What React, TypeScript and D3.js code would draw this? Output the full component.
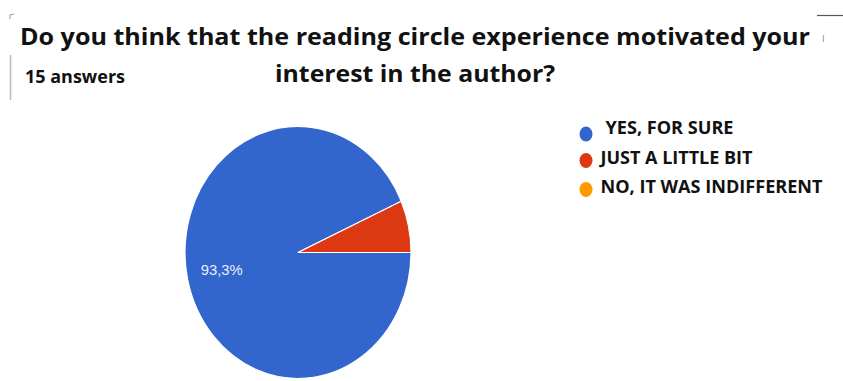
import React from "react";
import * as d3 from "d3";

const categories = ["YES, FOR SURE", "JUST A LITTLE BIT", "NO, IT WAS INDIFFERENT"];
const counts = [14, 1, 0];
const colors = ["#3366cc", "#dc3912", "#ff9900"];
const titleLines = [
  "Do you think that the reading circle experience motivated your",
  "interest in the author?",
];
const answersLabel = "15 answers";

const W = 843;
const H = 381;

export default function App() {
  const cx = 298;
  const cy = 252.5;
  const rx = 113;
  const ry = 126;
  const total = d3.sum(counts);

  const pie = d3
    .pie<number>()
    .sort(null)
    .value((d) => d)
    .startAngle(Math.PI / 2)
    .endAngle(Math.PI / 2 + 2 * Math.PI);
  const arcs = pie(counts);
  const arc = d3.arc<d3.PieArcDatum<number>>().innerRadius(0).outerRadius(rx);
  const labelArc = d3
    .arc<d3.PieArcDatum<number>>()
    .innerRadius(rx * 0.69)
    .outerRadius(rx * 0.69);

  const fmt = (v: number) => (Math.round((v / total) * 1000) / 10).toFixed(1).replace(".", ",") + "%";

  const legendX = 600.5;
  const legendY = [134, 164, 193];
  const legendWidths = [128, 152, 222];
  const legendDx = [5, 0, 0];

  return (
    <svg
      width={W}
      height={H}
      style={{ position: "absolute", left: 0, top: 0, background: "#fff" }}
      fontFamily="'Open Sans', sans-serif"
    >
      <rect x={0} y={0} width={W} height={H} fill="#ffffff" />
      {/* frame artifacts */}
      <line x1={817} y1={15.5} x2={843} y2={15.5} stroke="#555" strokeWidth={1.2} />
      <path d="M10,19 L10,15 L14,14" fill="none" stroke="#999" strokeWidth={1} />
      <line x1={10.5} y1={55} x2={10.5} y2={100} stroke="#bbb" strokeWidth={1.5} />
      <line x1={823.5} y1={35} x2={823.5} y2={42} stroke="#aaa" strokeWidth={1.2} />

      {/* title */}
      <text
        x={20}
        y={45}
        fontSize={22.5}
        fontWeight={700}
        fill="#111"
        textLength={790}
        lengthAdjust="spacingAndGlyphs"
      >
        {titleLines[0]}
      </text>
      <text
        x={275}
        y={81.7}
        fontSize={22.5}
        fontWeight={700}
        fill="#111"
        textLength={280}
        lengthAdjust="spacingAndGlyphs"
      >
        {titleLines[1]}
      </text>
      <text
        x={25}
        y={82.7}
        fontSize={17}
        fontWeight={700}
        fill="#111"
        textLength={100}
        lengthAdjust="spacingAndGlyphs"
      >
        {answersLabel}
      </text>

      {/* pie */}
      <g transform={`translate(${cx},${cy}) scale(1,${ry / rx})`}>
        {arcs.map((a, i) =>
          a.value > 0 ? (
            <path
              key={i}
              d={arc(a) || ""}
              fill={colors[i]}
              stroke="#ffffff"
              strokeWidth={1.2}
              vectorEffect="non-scaling-stroke"
            />
          ) : null
        )}
      </g>
      {arcs.map((a, i) => {
        if (a.value / total < 0.5) return null;
        const [lx, ly] = labelArc.centroid(a);
        return (
          <text
            key={"l" + i}
            x={cx + lx}
            y={cy + ly * (ry / rx)}
            dy="0.35em"
            textAnchor="middle"
            fontFamily="Arial, 'Liberation Sans', sans-serif"
            fontSize={14}
            fill="#e8eef9"
            textLength={42}
            lengthAdjust="spacingAndGlyphs"
          >
            {fmt(a.value)}
          </text>
        );
      })}

      {/* legend */}
      {categories.map((c, i) => (
        <g key={c}>
          <ellipse cx={586} cy={legendY[i] - (i === 0 ? 0 : 3.5)} rx={6.5} ry={7.5} fill={colors[i]} />
          <text
            x={legendX + legendDx[i]}
            y={legendY[i]}
            fontSize={18}
            fontWeight={700}
            fill="#111"
            textLength={legendWidths[i]}
            lengthAdjust="spacingAndGlyphs"
          >
            {c}
          </text>
        </g>
      ))}
    </svg>
  );
}
